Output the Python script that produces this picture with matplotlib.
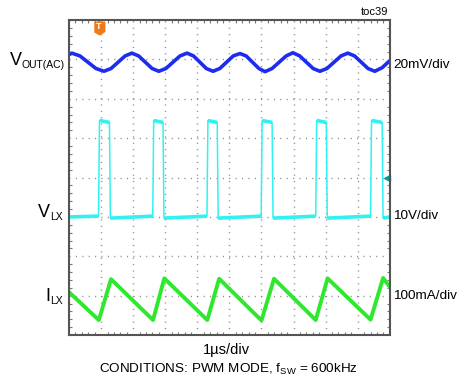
import matplotlib.pyplot as plt
from matplotlib import font_manager
from matplotlib.ticker import MultipleLocator

plt.rcParams['font.family'] = ['Liberation Sans', 'DejaVu Sans']
plt.rcParams['mathtext.default'] = 'regular'

# time in us (1 us/div), values in screen divisions (0 = bottom, 8 = top)
t_out = [0.00, 0.09, 0.34, 0.59, 0.84, 1.09, 1.31, 1.53, 1.75, 1.96, 2.17, 2.38,
         2.59, 2.80, 3.02, 3.24, 3.46, 3.68, 3.88, 4.08, 4.28, 4.49, 4.70, 4.91,
         5.12, 5.33, 5.52, 5.72, 5.92, 6.11, 6.33, 6.55, 6.77, 6.98, 7.19, 7.40,
         7.61, 7.82, 8.04, 8.26, 8.48, 8.69, 8.90, 9.11, 9.32, 9.53, 9.76, 10.0]
v_out = [7.12, 7.16, 7.09, 6.93, 6.77, 6.70, 6.77, 6.93, 7.09, 7.16, 7.09, 6.93,
         6.77, 6.70, 6.77, 6.93, 7.09, 7.16, 7.09, 6.93, 6.77, 6.70, 6.77, 6.93,
         7.09, 7.15, 7.09, 6.93, 6.77, 6.69, 6.77, 6.93, 7.09, 7.17, 7.09, 6.93,
         6.77, 6.70, 6.77, 6.93, 7.09, 7.16, 7.09, 6.93, 6.77, 6.70, 6.79, 6.97]

t_lx = [0.00, 0.92, 0.95, 1.26, 1.29, 2.61, 2.64, 2.93, 2.96, 4.30, 4.33, 4.62,
        4.65, 5.99, 6.02, 6.33, 6.36, 7.69, 7.72, 8.02, 8.05, 9.40, 9.43, 9.76,
        9.79, 10.0]
v_lx = [3.00, 3.02, 5.45, 5.40, 2.97, 3.02, 5.45, 5.40, 2.97, 3.02, 5.45, 5.40,
        2.97, 3.02, 5.45, 5.40, 2.97, 3.02, 5.45, 5.40, 2.97, 3.02, 5.45, 5.40,
        2.97, 3.00]

t_il = [0.00, 0.93, 1.31, 2.62, 2.97, 4.31, 4.68, 6.00, 6.39, 7.69, 8.06, 9.40, 9.79, 10.0]
v_il = [1.09, 0.38, 1.42, 0.38, 1.44, 0.38, 1.43, 0.37, 1.43, 0.38, 1.44, 0.39, 1.45, 1.22]

trig_t = 0.93

W, H = 457, 379
fig = plt.figure(figsize=(W / 100, H / 100), dpi=100)
ax = fig.add_axes([0.151, 0.116, 0.702, 0.831])
ax.set_xlim(0, 10)
ax.set_ylim(0, 8)

# scope graticule
ax.xaxis.set_major_locator(MultipleLocator(1))
ax.yaxis.set_major_locator(MultipleLocator(1))
ax.xaxis.set_minor_locator(MultipleLocator(0.2))
ax.yaxis.set_minor_locator(MultipleLocator(0.2))
ax.grid(True, which='major', color='#8a8a8a', linestyle=(0, (0.8, 3.8)), linewidth=1.0)
ax.tick_params(which='both', direction='in', top=True, right=True,
               labelbottom=False, labelleft=False, color='#777777')
ax.tick_params(which='major', length=0)
ax.tick_params(which='minor', length=2.5, width=0.8)
for s in ax.spines.values():
    s.set_color('#555555')
    s.set_linewidth(1.5)

ax.plot(t_out, v_out, color='#1e2cf0', lw=2.6, solid_joinstyle='round')

# switch node: thin edges, fuzzy flat levels
ax.plot(t_lx, v_lx, color='#30f2f2', lw=1.1)
for i in range(len(t_lx) - 1):
    if abs(v_lx[i + 1] - v_lx[i]) < 0.2:
        ax.plot(t_lx[i:i + 2], v_lx[i:i + 2], color='#30f2f2', lw=2.6,
                solid_capstyle='butt')

ax.plot(t_il, v_il, color='#2ee82e', lw=2.8, solid_joinstyle='round')

# trigger marker and level arrow
tmark = [(-1, 1.2), (1, 1.2), (1, -0.6), (0, -1.2), (-1, -0.6)]
ax.plot([trig_t], [7.81], marker=tmark, markersize=9, color='#f07a1a', clip_on=False)
ax.plot([trig_t, trig_t], [7.96, 8.0], color='#f07a1a', lw=1.5)
ax.text(trig_t, 7.84, 'T', color='white', fontsize=6.5, fontweight='bold',
        ha='center', va='center')
ax.plot([9.9], [3.98], marker='<', markersize=5, color='#0a9a9a', clip_on=False)

# channel labels: big letter + narrow subscript
names = {f.name for f in font_manager.fontManager.ttflist}
sub_family = 'Liberation Sans Narrow' if 'Liberation Sans Narrow' in names else 'Liberation Sans'
sub_size = 8.5 if sub_family == 'Liberation Sans Narrow' else 7.5
renderer = fig.canvas.get_renderer()


def channel_label(main, sub, x_right, y_base):
    st = fig.text(x_right / W, 1 - (y_base + 3) / H, sub, family=sub_family,
                  fontsize=sub_size, ha='right', va='baseline')
    bb = st.get_window_extent(renderer=renderer)
    fig.text(bb.x0 / W, 1 - y_base / H, main, fontsize=13, ha='right', va='baseline')


channel_label('V', 'OUT(AC)', 65, 65)
channel_label('V', 'LX', 63, 217)
channel_label('I', 'LX', 63, 301)

ax.text(10.1, 6.85, '20mV/div', fontsize=9.7, ha='left', va='center')
ax.text(10.1, 3.03, '10V/div', fontsize=9.7, ha='left', va='center')
ax.text(10.1, 0.98, '100mA/div', fontsize=9.7, ha='left', va='center')
ax.text(9.95, 8.2, 'toc39', fontsize=8, ha='right', va='center')

fig.text(0.495, 0.077, '1\u00b5s/div', fontsize=10.5, ha='center', va='center')
fig.text(0.5, 0.024, r'CONDITIONS: PWM MODE, f$_{SW}$ = 600kHz', fontsize=9.7,
         ha='center', va='center')

fig.savefig('out.png', dpi=100)
